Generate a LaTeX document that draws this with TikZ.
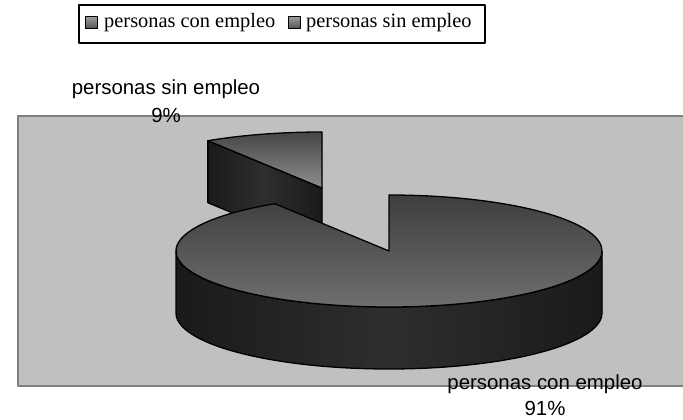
\documentclass[tikz,border=0pt]{standalone}
\usepackage{fontspec}
\setmainfont{Liberation Serif}
\newfontfamily\arialf{Liberation Sans}
\usetikzlibrary{calc}
\definecolor{plotbg}{HTML}{C0C0C0}
\definecolor{plotbd}{HTML}{808080}
\definecolor{topdark}{HTML}{3E3E3E}
\definecolor{toplight}{HTML}{727272}
\definecolor{slicedark}{HTML}{464646}
\definecolor{slicelight}{HTML}{8E8E8E}
\definecolor{sideedge}{HTML}{1A1A1A}
\definecolor{sidemid}{HTML}{2E2E2E}
\definecolor{legtop}{HTML}{9A9A9A}
\definecolor{legbot}{HTML}{505050}
\begin{document}
\begin{tikzpicture}[x=1pt,y=1pt,line join=round,
  outl/.style={draw=black,line width=1.3pt},
  topface/.style={outl,top color=topdark,bottom color=toplight},
  slicetop/.style={outl,shading angle=40,top color=slicedark,bottom color=slicelight},
  sideface/.style={outl,left color=sideedge,right color=sideedge,middle color=sidemid},
  lbl/.style={font=\arialf\fontsize{20.4}{24}\selectfont,inner sep=0pt,anchor=base},
  legtxt/.style={font=\fontsize{20.4}{24}\selectfont,inner sep=0pt,anchor=base west},
  legsq/.style={draw=black,line width=1pt,top color=legtop,bottom color=legbot}]
\useasboundingbox (0,0) rectangle (683,420);
\fill[white] (0,0) rectangle (683,420);
% plot area
\draw[draw=plotbd,fill=plotbg,line width=2pt] (18,34) rectangle (690,304);
% exploded slice (9%)
\coordinate (sc) at (322,232);
\coordinate (sa) at ($(sc)+(90:213pt and 56pt)$);
\coordinate (sb) at ($(sc)+(122.4:213pt and 56pt)$);
\filldraw[sideface] (sc) -- (sb) -- ($(sb)+(0,-62)$) -- ($(sc)+(0,-62)$) -- cycle;
\filldraw[slicetop] (sc) -- (sa) arc[start angle=90,end angle=122.4,x radius=213pt,y radius=56pt] -- cycle;
% main pie (91%)
\coordinate (bc) at (389,169);
\coordinate (bl) at ($(bc)+(-213,0)$);
\coordinate (bs) at ($(bc)+(122.4:213pt and 56pt)$);
\filldraw[sideface] (bl) arc[start angle=180,end angle=360,x radius=213pt,y radius=56pt] -- ++(0,-62) arc[start angle=360,end angle=180,x radius=213pt,y radius=56pt] -- cycle;
\filldraw[topface] (bc) -- (bs) arc[start angle=122.4,end angle=450,x radius=213pt,y radius=56pt] -- cycle;
% data labels
\node[lbl] (sinlbl) at (166,325) {personas sin empleo};
\node[lbl] (sinpct) at (166,297) {9\%};
\node[lbl] (conlbl) at (545,30) {personas con empleo};
\node[lbl] (conpct) at (545,4) {91\%};
% legend
\draw[line width=2pt,fill=white] (79,377) rectangle (485,415);
\draw[legsq] (85,391) rectangle (97,403);
\node[legtxt] (legcon) at (104,392) {personas con empleo};
\draw[legsq] (288,391) rectangle (300,403);
\node[legtxt] (legsin) at (306,392) {personas sin empleo};
\end{tikzpicture}
\end{document}
